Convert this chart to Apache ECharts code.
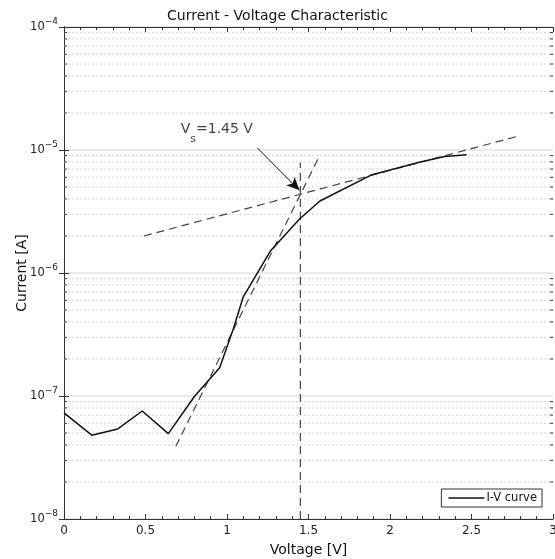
<!DOCTYPE html>
<html>
<head>
<meta charset="utf-8">
<script src="https://cdn.jsdelivr.net/npm/echarts@6/dist/echarts.min.js"></script>
<style>
  html, body { margin: 0; padding: 0; background: #fff; }
  #chart { width: 555px; height: 559px; }
</style>
</head>
<body>
<div id="chart"></div>
<script>
// I-V curve
const voltage = [0, 0.17, 0.33, 0.48, 0.64, 0.80, 0.955, 1.04, 1.10, 1.265, 1.445, 1.57, 1.89, 2.18, 2.335, 2.47]
const current = [7.3e-8, 4.8e-8, 5.4e-8, 7.55e-8, 4.95e-8, 9.9e-8, 1.7e-7, 3.55e-7, 6.4e-7, 1.5e-6, 2.75e-6, 3.85e-6, 6.3e-6, 7.95e-6, 8.85e-6, 9.15e-6]

// fitted lines (dashed)
const fitHigh = [[0.49, 2.0e-6], [2.8, 1.31e-5]]
const fitSteep = [[0.686, 3.9e-8], [1.568, 9.0e-6]]
const vsLine = [[1.45, 1e-8], [1.45, 7.9e-6]]
const arrowFrom = [1.186, 1.04e-5]
const arrowTo = [1.445, 4.7e-6]
const labelAt = [0.716, 1.46e-5]

// y decades and minor grid values
const yDecades = [1e-8, 1e-7, 1e-6, 1e-5, 1e-4]
const yMinor = []
for (let d = 0; d < yDecades.length - 1; d++) {
  for (let k = 2; k <= 9; k++) yMinor.push(k * yDecades[d])
}

const FONT = '"DejaVu Sans", sans-serif'
const dark = '#333'

const chart = echarts.init(document.getElementById('chart'))

const option = {
  animation: false,
  textStyle: { fontFamily: FONT },
  title: {
    text: 'Current - Voltage Characteristic',
    left: 'center',
    top: 4,
    textStyle: { fontFamily: FONT, fontSize: 14, fontWeight: 'normal', color: '#111' }
  },
  legend: {
    data: [{ name: 'I-V curve', icon: 'rect' }],
    right: 13,
    bottom: 52,
    orient: 'vertical',
    backgroundColor: '#fff',
    borderColor: dark,
    borderWidth: 1,
    borderRadius: 0,
    padding: [3, 5, 3, 7],
    itemWidth: 36,
    itemHeight: 1.5,
    textStyle: { fontFamily: FONT, fontSize: 11.5, color: '#111', padding: [0, 0, 0, -3] }
  },
  grid: { left: 64, right: 2, top: 27, bottom: 40, containLabel: false, outerBoundsMode: 'none' },
  xAxis: [
    {
      type: 'value',
      min: 0,
      max: 3,
      interval: 0.5,
      name: 'Voltage [V]',
      nameLocation: 'middle',
      nameGap: 24,
      nameMoveOverlap: false,
      nameTextStyle: { fontFamily: FONT, fontSize: 14, color: '#111' },
      axisLine: { lineStyle: { color: dark } },
      axisTick: { inside: true, length: 5, lineStyle: { color: dark } },
      minorTick: { show: true, splitNumber: 5, length: 3, lineStyle: { color: dark } },
      axisLabel: { color: '#222', fontSize: 12, margin: 6, fontFamily: FONT },
      splitLine: { show: false }
    },
    {
      type: 'value',
      position: 'top',
      min: 0,
      max: 3,
      interval: 0.5,
      axisLine: { show: true, lineStyle: { color: dark } },
      axisTick: { inside: true, length: 5, lineStyle: { color: dark } },
      minorTick: { show: true, splitNumber: 5, length: 3, lineStyle: { color: dark } },
      axisLabel: { show: false },
      splitLine: { show: false }
    }
  ],
  yAxis: [
    {
      type: 'log',
      logBase: 10,
      min: 1e-8,
      max: 1e-4,
      interval: 1,
      name: 'Current [A]',
      nameLocation: 'middle',
      nameGap: 35,
      nameMoveOverlap: false,
      nameTextStyle: { fontFamily: FONT, fontSize: 14, color: '#111' },
      axisLine: { show: true, lineStyle: { color: dark } },
      axisTick: { inside: true, length: 5, lineStyle: { color: dark } },
      axisLabel: {
        margin: 6,
        formatter: function (val) {
          const e = Math.round(Math.log10(val))
          return '{b|10}{e|\u2212' + (-e) + '}'
        },
        rich: {
          b: { fontFamily: FONT, fontSize: 11.5, color: '#222' },
          e: { fontFamily: FONT, fontSize: 9, color: '#222', padding: [0, 0, 10, 0] }
        }
      },
      splitLine: { show: true, lineStyle: { color: '#e3e3e3', width: 1.5 } }
    },
    {
      type: 'log',
      logBase: 10,
      min: 1e-8,
      max: 1e-4,
      interval: 1,
      position: 'right',
      axisLine: { show: true, lineStyle: { color: dark } },
      axisTick: { inside: true, length: 5, lineStyle: { color: dark } },
      axisLabel: { show: false },
      splitLine: { show: false }
    }
  ],
  series: [
    {
      // minor grid (dotted) at 2..9 x decade, plus minor ticks on both sides
      name: 'minor-grid',
      type: 'custom',
      silent: true,
      data: yMinor.map(v => [0, v]),
      renderItem: function (params, api) {
        const v = api.value(1)
        const l = api.coord([0, v])
        const r = api.coord([3, v])
        return {
          type: 'group',
          children: [
            { type: 'line', shape: { x1: l[0], y1: l[1], x2: r[0], y2: r[1] }, style: { stroke: '#d2d2d2', lineWidth: 1, lineDash: [2, 2] } },
            { type: 'line', shape: { x1: l[0], y1: l[1], x2: l[0] + 3, y2: l[1] }, style: { stroke: dark, lineWidth: 1 } },
            { type: 'line', shape: { x1: r[0], y1: r[1], x2: r[0] - 3, y2: r[1] }, style: { stroke: dark, lineWidth: 1 } }
          ]
        }
      },
      encode: { x: 0, y: 1 },
      z: 1
    },
    {
      name: 'fit-high',
      type: 'line',
      data: fitHigh,
      symbol: 'none',
      lineStyle: { color: '#444', width: 1.2, type: [8, 5] },
      z: 3
    },
    {
      name: 'fit-steep',
      type: 'line',
      data: fitSteep,
      symbol: 'none',
      lineStyle: { color: '#444', width: 1.2, type: [8, 5] },
      z: 3
    },
    {
      name: 'vs-line',
      type: 'line',
      data: vsLine,
      symbol: 'none',
      lineStyle: { color: '#444', width: 1.2, type: [8, 5] },
      z: 3
    },
    {
      name: 'I-V curve',
      type: 'line',
      data: voltage.map((v, i) => [v, current[i]]),
      symbol: 'none',
      lineStyle: { color: '#111', width: 1.5 },
      itemStyle: { color: '#111' },
      z: 4
    },
    {
      name: 'annotation',
      type: 'scatter',
      data: [labelAt],
      symbolSize: 0,
      silent: true,
      label: {
        show: true,
        position: 'right',
        distance: 0,
        formatter: '{v|V}{s|s}{v|=1.45 V}',
        rich: {
          v: { fontFamily: FONT, fontSize: 14, color: '#111' },
          s: { fontFamily: FONT, fontSize: 11, color: '#111', padding: [18, 0, 0, 0] }
        }
      },
      markLine: {
        silent: true,
        symbol: ['none', 'arrow'],
        symbolSize: [9, 13],
        label: { show: false },
        lineStyle: { color: '#111', width: 1, type: 'solid' },
        data: [[
          { coord: arrowFrom },
          { coord: arrowTo }
        ]]
      },
      z: 5
    }
  ]
}

chart.setOption(option)
</script>
</body>
</html>
